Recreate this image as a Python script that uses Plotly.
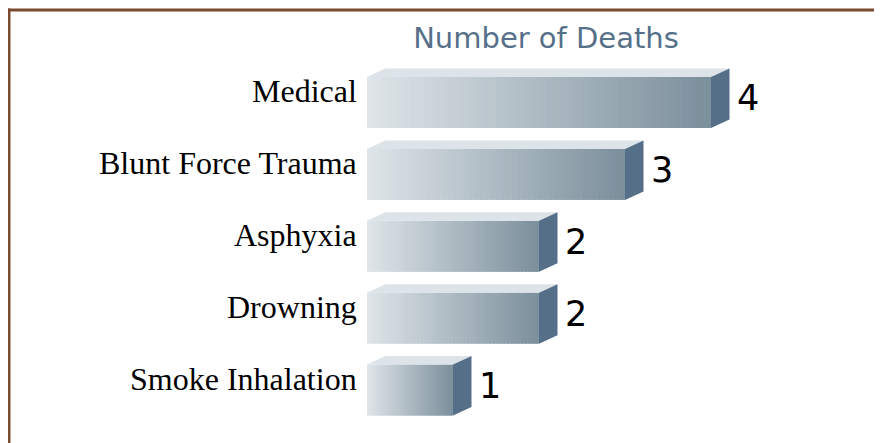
import plotly.graph_objects as go

categories = ["Medical", "Blunt Force Trauma", "Asphyxia", "Drowning", "Smoke Inhalation"]
deaths = [4, 3, 2, 2, 1]
title_text = "Number of Deaths"

# page has an 8px body margin; figure coordinates = screen px - OFF
OFF = 8
W, H = 882 - OFF, 443 - OFF
ML, MR, MT, MB = 367 - OFF, 7, 22, 2
PX_PER_UNIT = 86.0
PX_PER_ROW = 71.9
FIRST_ROW_PX = 102.5 - OFF  # centre of first bar front face from figure top
FRONT_H_PX = 51.0
DEPTH_X_PX = 18.5
DEPTH_Y_PX = 8.5

plot_w = W - ML - MR
plot_h = H - MT - MB
x_max = plot_w / PX_PER_UNIT
y_top = -(FIRST_ROW_PX - MT) / PX_PER_ROW
y_bot = y_top + plot_h / PX_PER_ROW

bw = FRONT_H_PX / PX_PER_ROW
hw = bw / 2
dxu = DEPTH_X_PX / PX_PER_UNIT
dyu = DEPTH_Y_PX / PX_PER_ROW

left_rgb = (223, 229, 233)
right_rgb = (123, 143, 156)
top_color = "#dce4e9"
side_color = "#566f88"

def lerp(c1, c2, t):
    return "rgb(%d,%d,%d)" % tuple(round(a + (b - a) * t) for a, b in zip(c1, c2))

idx = list(range(len(categories)))
fig = go.Figure()

N = 48
for k in range(N):
    t = (k + 0.5) / N
    ext = 1.6 if k < N - 1 else 1.0
    fig.add_trace(go.Bar(
        orientation="h",
        y=idx,
        x=[v / N * ext for v in deaths],
        base=[v * k / N for v in deaths],
        width=bw,
        marker=dict(color=lerp(left_rgb, right_rgb, t), line=dict(width=0)),
        hoverinfo="skip",
        showlegend=False,
    ))

# top faces
tx, ty = [], []
for i, v in zip(idx, deaths):
    yf = i - hw
    tx += [0, v, v + dxu, dxu, 0, None]
    ty += [yf, yf, yf - dyu, yf - dyu, yf, None]
fig.add_trace(go.Scatter(x=tx, y=ty, fill="toself", fillcolor=top_color,
                         mode="lines", line=dict(width=0, color=top_color),
                         hoverinfo="skip", showlegend=False))
# side faces
sx, sy = [], []
for i, v in zip(idx, deaths):
    sx += [v, v + dxu, v + dxu, v, v, None]
    sy += [i - hw, i - hw - dyu, i + hw - dyu, i + hw, i - hw, None]
fig.add_trace(go.Scatter(x=sx, y=sy, fill="toself", fillcolor=side_color,
                         mode="lines", line=dict(width=0, color=side_color),
                         hoverinfo="skip", showlegend=False))

annotations = []
for i, v, c in zip(idx, deaths, categories):
    annotations.append(dict(x=v + dxu, y=i - dyu / 2, xref="x", yref="y",
                            text=str(v), showarrow=False, xanchor="left", yanchor="middle",
                            xshift=5, font=dict(family="DejaVu Sans", size=35, color="black")))
    annotations.append(dict(x=0, y=i - 0.16, xref="x", yref="y",
                            text=c, showarrow=False, xanchor="right", yanchor="middle",
                            xshift=-8, font=dict(family="Liberation Serif", size=32, color="black")))

def px2paper_x(px):
    return (px - OFF - ML) / plot_w

def px2paper_y(py):
    return (H - MB - (py - OFF)) / plot_h

border = "#7a4b2f"
shapes = [
    dict(type="line", xref="paper", yref="paper", x0=px2paper_x(7.5), x1=px2paper_x(900),
         y0=px2paper_y(10), y1=px2paper_y(10), line=dict(color=border, width=3)),
    dict(type="line", xref="paper", yref="paper", x0=px2paper_x(9), x1=px2paper_x(9),
         y0=px2paper_y(8.5), y1=px2paper_y(460), line=dict(color=border, width=3)),
]

fig.update_layout(
    width=W, height=H,
    margin=dict(l=ML, r=MR, t=MT, b=MB),
    paper_bgcolor="white", plot_bgcolor="white",
    barmode="overlay",
    xaxis=dict(range=[0, x_max], visible=False, fixedrange=True),
    yaxis=dict(range=[y_bot, y_top], visible=False, fixedrange=True),
    title=dict(text=title_text, x=px2paper_x(546), xref="paper", xanchor="center",
               y=1 - (38 - OFF) / H, yref="container", yanchor="middle",
               font=dict(family="DejaVu Sans", size=29, color="#56708a")),
    annotations=annotations,
    shapes=shapes,
    showlegend=False,
)

fig.write_html("out.html")
